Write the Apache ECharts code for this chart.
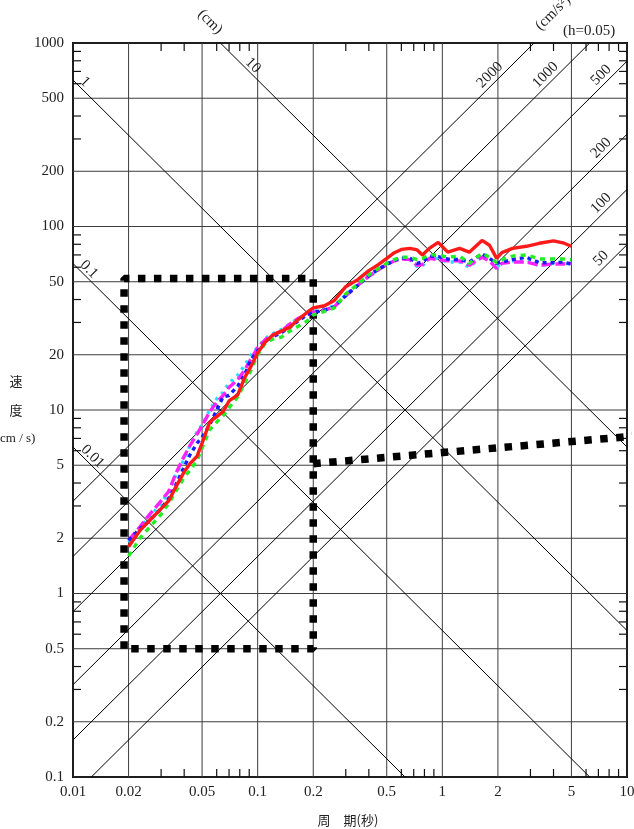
<!DOCTYPE html>
<html><head><meta charset="utf-8">
<script src="https://cdn.jsdelivr.net/npm/echarts@6/dist/echarts.min.js"></script>
<style>html,body{margin:0;padding:0;background:#fff}#c{width:634px;height:829px}</style>
</head><body><div id="c"></div>
<script>
// ---- data ----
const periods = [0.02,0.023,0.026,0.03,0.033,0.036,0.04,0.043,0.047,0.05,0.055,0.06,0.065,0.07,0.078,0.085,0.092,0.1,0.11,0.12,0.135,0.15,0.165,0.185,0.2,0.23,0.26,0.3,0.35,0.4,0.45,0.5,0.55,0.6,0.67,0.73,0.78,0.85,0.95,1.07,1.24,1.4,1.64,1.8,1.97,2.1,2.4,2.85,3.35,4.0,4.5,5.0];
const redVel = [1.8,2.2,2.5,2.9,3.2,3.8,4.6,5.1,5.6,6.6,8.6,9.2,9.8,11.2,12.1,15,17.3,20.5,23.5,25.5,27,28.3,31,34,36,37,39.5,47,51.5,57.5,62,67,72,75,76,74.5,70,76,82,72.5,76,72.5,84,79,67,72,76,78,81,83.5,81.5,78];
const blueVel = [1.95,2.25,2.5,2.9,3.3,3.9,4.9,5.7,6.6,7.1,8.3,10,11.8,12,13.5,15.6,18.8,21,23.5,25,26.5,28.3,30.5,33,34,35,36.5,42,48,54,58.5,62,65.5,67.5,67,63,64,69,68.5,66.5,66,64,71,67,63,64,66,68,63.5,63.5,64,62.5];
const greenVel = [1.6,2.0,2.3,2.7,3.1,3.6,4.3,4.7,5.3,6.2,7.8,8.6,9.3,10.3,11.8,14,16.5,20,23.2,24.3,25,27,28.5,30.5,33,34.5,36,43,48.5,54.5,59,63,66,68,68,66,67,70,70,68,69,63,71.5,68,63.5,66,69,70,66.5,66.5,66.5,66];
const magentaVel = [1.95,2.3,2.7,3.2,3.6,4.5,5.6,6.4,7.4,8.2,9.8,11,12,13.3,14.6,16.5,19,21.8,24.2,25.5,27,29.5,31.5,33,34,35,36.5,42,48,53.5,58,62,65,66.5,66,61.5,62,67,66,65,65,61.5,68,65,59,63,64,64,61.5,62.5,62.5,63];
const cyanVel = [1.9,2.3,2.6,3.1,3.6,4.4,5.4,6.4,7.6,8.3,10,11.5,12.5,14,15.5,17.5,20,22,24.5,26,27.5,29.5,31.5,33,34.5,35.5,37,42.5,48.5,54,58.5,62.5,66,67.5,66,60.5,61,67,67,64,64,60,69,65,60,63,65,65.5,61,63,63,62.5];
// target envelope (dotted box) and its extension
const boxPeriods = [0.0189,0.0189,0.2,0.2,0.0189];
const boxVel = [0.5,52,52,0.5,0.5];
const extPeriods = [0.2,10.9];
const extVel = [5.1,7.2];
// axes
const xMajor = [0.01,0.02,0.05,0.1,0.2,0.5,1,2,5,10];
const xLabels = ['0.01','0.02','0.05','0.1','0.2','0.5','1','2','5','10'];
const yMajor = [0.1,0.2,0.5,1,2,5,10,20,50,100,200,500,1000];
const yLabels = ['0.1','0.2','0.5','1','2','5','10','20','50','100','200','500','1000'];
const xMinor = [0.03,0.04,0.06,0.07,0.08,0.09,0.3,0.4,0.6,0.7,0.8,0.9,3,4,6,7,8,9];
const yMinor = [0.3,0.4,0.6,0.7,0.8,0.9,3,4,6,7,8,9,30,40,60,70,80,90,300,400,600,700,800,900];
// tripartite lines
const dispValues = [0.01,0.1,1,10];          // cm
const dispLabels = ['0.01','0.1','1','10'];
const accValues = [50,100,200,500,1000,2000]; // cm/s^2
const accLabels = ['50','100','200','500','1000','2000'];

// ---- rendering ----
const X0=0.01, X1=10, Y0=0.1, Y1=1000;
const TWO_PI = 2*Math.PI;
const dispLabelAt = [0.01198,0.01147,0.0109,0.0886];
const accLabelAt = [7.8,7.8,7.8,7.8,3.9,1.95];
const numFont = '15px "Liberation Serif", "DejaVu Serif", serif';

function clipDiag(c, s) {
  let lo=-2, hi=1;
  if (s>0){ lo=Math.max(lo,-1-c); hi=Math.min(hi,3-c);} else { lo=Math.max(lo,c-3); hi=Math.min(hi,c+1);}
  if (lo>=hi) return null;
  return [[Math.pow(10,lo), Math.pow(10,c+s*lo)], [Math.pow(10,hi), Math.pow(10,c+s*hi)]];
}

function bgRender(params, api) {
  const ch = [];
  const P = (x,y) => api.coord([x,y]);
  const seg = (a,b,stroke,w) => ch.push({type:'line', shape:{x1:a[0],y1:a[1],x2:b[0],y2:b[1]}, style:{stroke:stroke, lineWidth:w}});
  const txt = (x,y,t,align,rot) => ch.push({type:'text', x:x, y:y, rotation:rot||0,
      style:{text:t, font:numFont, fill:'#222', align:align||'center', verticalAlign:'middle'}});
  // grid
  xMajor.forEach(v => seg(P(v,Y0),P(v,Y1),'#3c3c3c',1));
  yMajor.forEach(v => seg(P(X0,v),P(X1,v),'#3c3c3c',1));
  // minor ticks inward
  const TL = 8;
  xMinor.forEach(v => { const b=P(v,Y0), t=P(v,Y1); seg(b,[b[0],b[1]-TL],'#111',1.2); seg(t,[t[0],t[1]+TL],'#111',1.2); });
  yMinor.forEach(v => { const l=P(X0,v), r=P(X1,v); seg(l,[l[0]+TL,l[1]],'#111',1.2); seg(r,[r[0]-TL,r[1]],'#111',1.2); });
  // displacement lines
  dispValues.forEach((D,i) => {
    const c = Math.log10(TWO_PI*D); const e = clipDiag(c,-1);
    if (e) seg(P(e[0][0],e[0][1]),P(e[1][0],e[1][1]),'#000',1);
    const T = dispLabelAt[i]; const p = P(T, TWO_PI*D/T);
    txt(p[0]+5,p[1]-5,dispLabels[i],'center',-Math.PI/4);
  });
  // acceleration lines
  accValues.forEach((A,i) => {
    const c = Math.log10(A/TWO_PI); const e = clipDiag(c,1);
    if (e) seg(P(e[0][0],e[0][1]),P(e[1][0],e[1][1]),'#000',1);
    const T = accLabelAt[i]; const p = P(T, A*T/TWO_PI);
    txt(p[0]-6,p[1]-6,accLabels[i],'center',Math.PI/4);
  });
  // axis labels
  xMajor.forEach((v,i) => { const p=P(v,Y0); txt(p[0],p[1]+15,xLabels[i],'center'); });
  yMajor.forEach((v,i) => { const p=P(X0,v); txt(p[0]-9,p[1],yLabels[i],'right'); });
  return {type:'group', children:ch};
}

const zip = (a,b) => a.map((v,i)=>[v,b[i]]);
function dataSeries(name, vals, color, type, z) {
  return {name, type:'line', data:zip(periods,vals), symbol:'none', z:z, animation:false,
    lineStyle:{color, width:3.4, type, cap:'butt'}};
}

const chart = echarts.init(document.getElementById('c'));
chart.setOption({
  animation:false,
  grid:{left:73,right:7,top:43,bottom:52, show:true, borderColor:'#000', borderWidth:2, backgroundColor:'transparent'},
  xAxis:{type:'log', logBase:10, min:X0, max:X1, axisLine:{show:false}, axisTick:{show:false}, axisLabel:{show:false}, splitLine:{show:false}},
  yAxis:{type:'log', logBase:10, min:Y0, max:Y1, axisLine:{show:false}, axisTick:{show:false}, axisLabel:{show:false}, splitLine:{show:false}},
  series:[
    {type:'custom', renderItem:bgRender, data:[[1,1]], z:1, silent:true, clip:false, animation:false},
    {type:'line', data:zip(boxPeriods,boxVel), symbol:'none', z:2, clip:false, lineStyle:{color:'#000', width:7.5, type:[7.5,8.5], cap:'butt'}},
    {type:'line', data:zip(extPeriods,extVel), symbol:'none', z:2, clip:false, lineStyle:{color:'#000', width:7.5, type:[7.5,8.5], cap:'butt'}},
    dataSeries('cyan', cyanVel, '#22e0ff', [3,5], 3),
    dataSeries('magenta', magentaVel, '#ff22ff', [10,4], 4),
    dataSeries('blue', blueVel, '#1a1aff', [4,4], 5),
    dataSeries('green', greenVel, '#22ee22', [5,5], 6),
    dataSeries('red', redVel, '#ff1a1a', 'solid', 7)
  ],
  graphic:[
    {type:'text', x:210, y:22, rotation:-Math.PI/4, style:{text:'(cm)', font:numFont, fill:'#222', align:'center', verticalAlign:'middle'}},
    {type:'text', x:553, y:13, rotation:Math.PI/4, style:{text:'(cm/s²)', font:numFont, fill:'#222', align:'center', verticalAlign:'middle'}},
    {type:'text', x:563, y:31, style:{text:'(h=0.05)', font:numFont, fill:'#222', align:'left', verticalAlign:'middle'}},
    {type:'text', x:16, y:381, style:{text:'速', font:'13px "Noto Sans CJK JP"', fill:'#222', align:'center', verticalAlign:'middle'}},
    {type:'text', x:16, y:410, style:{text:'度', font:'13px "Noto Sans CJK JP"', fill:'#222', align:'center', verticalAlign:'middle'}},
    {type:'text', x:0, y:439, style:{text:'cm / s)', font:'13px "Liberation Serif", serif', fill:'#222', align:'left', verticalAlign:'middle'}},
    {type:'text', x:348, y:820, style:{text:'周　期(秒)', font:'13px "Noto Sans CJK JP"', fill:'#222', align:'center', verticalAlign:'middle'}}
  ]
});
</script></body></html>
